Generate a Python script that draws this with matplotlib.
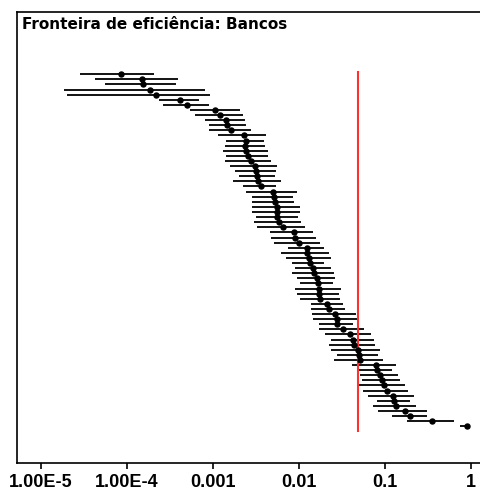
import numpy as np
import matplotlib
matplotlib.use("Agg")
import matplotlib.pyplot as plt

plt.rcParams['font.family'] = ['Liberation Sans', 'DejaVu Sans']

# valores, em log10 (estimativa e intervalo)
log_est = [-4.07, -3.82, -3.81, -3.73, -3.66, -3.38, -3.30, -2.97, -2.92, -2.85,
           -2.83, -2.79, -2.64, -2.62, -2.63, -2.61, -2.59, -2.56, -2.51, -2.50,
           -2.49, -2.48, -2.44, -2.30, -2.29, -2.28, -2.25, -2.25, -2.25, -2.23,
           -2.18, -2.06, -2.04, -2.00, -1.91, -1.90, -1.88, -1.87, -1.83, -1.82,
           -1.79, -1.78, -1.77, -1.76, -1.75, -1.67, -1.65, -1.58, -1.55, -1.55,
           -1.48, -1.40, -1.37, -1.36, -1.31, -1.30, -1.29, -1.10, -1.09, -1.06,
           -1.03, -1.01, -0.97, -0.90, -0.89, -0.87, -0.77, -0.71, -0.45, -0.04]
log_lo = [-4.55, -4.37, -4.26, -4.73, -4.70, -3.63, -3.58, -3.27, -3.21, -3.09,
          -3.05, -3.05, -2.94, -2.85, -2.86, -2.88, -2.85, -2.86, -2.80, -2.74,
          -2.70, -2.77, -2.65, -2.61, -2.55, -2.54, -2.54, -2.55, -2.50, -2.52,
          -2.49, -2.34, -2.32, -2.29, -2.13, -2.21, -2.15, -2.08, -2.05, -2.08,
          -2.02, -1.99, -2.05, -2.02, -1.99, -1.86, -1.86, -1.85, -1.84, -1.76,
          -1.77, -1.70, -1.63, -1.65, -1.62, -1.55, -1.59, -1.38, -1.31, -1.29,
          -1.27, -1.31, -1.25, -1.19, -1.09, -1.14, -1.08, -0.91, -0.74, -0.13]
log_hi = [-3.69, -3.40, -3.43, -3.09, -3.03, -3.16, -3.04, -2.68, -2.65, -2.63,
          -2.61, -2.56, -2.38, -2.41, -2.39, -2.36, -2.36, -2.32, -2.25, -2.26,
          -2.28, -2.21, -2.27, -2.02, -2.07, -2.06, -1.99, -1.99, -2.01, -1.97,
          -1.93, -1.83, -1.80, -1.75, -1.71, -1.65, -1.63, -1.71, -1.63, -1.59,
          -1.58, -1.60, -1.51, -1.53, -1.52, -1.49, -1.46, -1.33, -1.32, -1.37,
          -1.24, -1.16, -1.13, -1.11, -1.05, -1.08, -1.02, -0.87, -0.92, -0.85,
          -0.82, -0.77, -0.73, -0.66, -0.71, -0.64, -0.51, -0.51, -0.20, -0.02]
fronteira = 0.0482

tick_vals = [1e-5, 1e-4, 1e-3, 1e-2, 1e-1, 1]
tick_labels = ['1.00E-5', '1.00E-4', '0.001', '0.01', '0.1', '1']

est = 10 ** np.array(log_est)
lo = 10 ** np.array(log_lo)
hi = 10 ** np.array(log_hi)
y = np.arange(1, len(est) + 1)

fig = plt.figure(figsize=(4.81, 4.90), dpi=100)
ax = fig.add_axes([0.0353, 0.0551, 0.9834, 0.9204])

ax.errorbar(est, y, xerr=[est - lo, hi - est], fmt='o', color='black',
            ecolor='black', elinewidth=1.3, markersize=3.6, capsize=0)
ax.plot([fronteira, fronteira], [0.55, 70.9], color='#ff3030', linewidth=1.5)

ax.set_xscale('log')
ax.set_xlim(10 ** -5.279, 10 ** 0.2245)
ax.set_ylim(77.2, -11.2)
ax.set_xticks(tick_vals)
ax.set_xticklabels(tick_labels, fontsize=13, fontweight='bold')
ax.xaxis.set_minor_locator(matplotlib.ticker.NullLocator())
ax.tick_params(axis='x', direction='out', length=4.5, width=1.2, pad=3.5)
ax.set_yticks([])
for s in ax.spines.values():
    s.set_linewidth(1.2)
ax.spines['right'].set_visible(False)

# título mais largo, tipo Verdana
fig.text(22 / 481, 1 - 17 / 490, 'Fronteira de eficiência: Bancos',
         fontsize=11, fontweight='bold', va='top', ha='left',
         family=['DejaVu Sans'])

fig.savefig('out.png', dpi=100)
